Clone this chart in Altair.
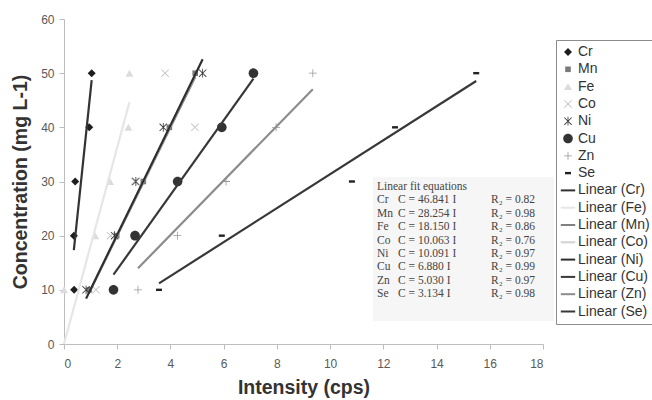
import altair as alt
import pandas as pd

# ---------------- data ----------------
elements = ["Cr", "Mn", "Fe", "Co", "Ni", "Cu", "Zn", "Se"]
concentrations = [10, 20, 30, 40, 50]

int_cr = [0.38, 0.37, 0.42, 0.95, 1.04]
int_mn = [0.95, 1.98, 2.98, 3.96, 4.93]
int_fe = [0.0, 1.17, 1.73, 2.42, 2.46]
int_co = [1.20, 1.75, 2.65, 4.92, 3.80]
int_ni = [0.83, 1.90, 2.70, 3.73, 5.21]
int_cu = [1.86, 2.67, 4.27, 5.93, 7.12]
int_zn = [2.78, 4.26, 6.09, 7.97, 9.35]
int_se = [3.57, 5.93, 10.82, 12.44, 15.49]
intensities = {"Cr": int_cr, "Mn": int_mn, "Fe": int_fe, "Co": int_co,
               "Ni": int_ni, "Cu": int_cu, "Zn": int_zn, "Se": int_se}

# trendlines (through the origin), in legend order; slopes as drawn
fit_order = ["Cr", "Fe", "Mn", "Co", "Ni", "Cu", "Zn", "Se"]
fit_slopes = [46.841, 18.150, 10.0, 10.063, 10.091, 6.880, 5.030, 3.134]

# equations table text
eq_slopes = ["46.841", "28.254", "18.150", "10.063", "10.091", "6.880", "5.030", "3.134"]
eq_r2 = ["0.82", "0.98", "0.86", "0.76", "0.97", "0.99", "0.97", "0.98"]

# ---------------- tables ----------------
pts_rows = []
for el in elements:
    for c, i in zip(concentrations, intensities[el]):
        pts_rows.append({"label": el, "I": i, "C": c})
pts_df = pd.DataFrame(pts_rows)

line_rows = []
for el, k in zip(fit_order, fit_slopes):
    xs = intensities[el]
    for x in (min(xs), max(xs)):
        line_rows.append({"label": "Linear (%s)" % el, "I": x, "C": k * x})
line_df = pd.DataFrame(line_rows)

eq_df = pd.DataFrame({
    "i": list(range(len(elements) + 1)),
    "el": ["Linear fit equations"] + elements,
    "eq": [""] + ["C = %s I" % s for s in eq_slopes],
    "r2": [""] + ["R\u2082 = %s" % r for r in eq_r2],
})

# ---------------- styles ----------------
domain = elements + ["Linear (%s)" % e for e in fit_order]
pt_colors = ["#1e1e1e", "#7a7a7a", "#dcdcdc", "#c2c2c2", "#3a3a3a", "#333333", "#9a9a9a", "#222222"]
ln_colors = ["#333333", "#e6e6e6", "#808080", "#d2d2d2", "#2e2e2e", "#383838", "#8c8c8c", "#383838"]
color_range = pt_colors + ln_colors

sq = "M-0.7,-0.7L0.7,-0.7L0.7,0.7L-0.7,0.7Z"
xmark = "M-0.85,-1L1,0.85L0.85,1L-1,-0.85Z M0.85,-1L1,-0.85L-0.85,1L-1,0.85Z"
star = xmark + " M-0.1,-1.1L0.1,-1.1L0.1,1.1L-0.1,1.1Z"
circ = "M1.2,0A1.2,1.2 0 1,1 -1.2,0A1.2,1.2 0 1,1 1.2,0Z"
plus = "M-1,-0.1L1,-0.1L1,0.1L-1,0.1Z M-0.1,-1L0.1,-1L0.1,1L-0.1,1Z"
dash = "M-0.75,-0.3L0.75,-0.3L0.75,0.3L-0.75,0.3Z"
bar = "M-1.8,-0.25L1.8,-0.25L1.8,0.25L-1.8,0.25Z"
shape_range = ["diamond", sq, "triangle-up", xmark, star, circ, plus, dash] + [bar] * 8

legend = alt.Legend(
    title=None, orient="none", legendX=492, legendY=21,
    strokeColor="#8c8c8c", fillColor="white", padding=5, cornerRadius=0,
    labelFont="Liberation Sans", labelFontSize=14, labelColor="#333333",
    rowPadding=3.3, symbolSize=64, symbolOffset=0, labelOffset=3, symbolStrokeWidth=0,
)

FONT = "Liberation Sans"

x_enc = alt.X("I:Q", title="Intensity (cps)",
              scale=alt.Scale(domain=[0, 18], nice=False),
              axis=alt.Axis(values=list(range(0, 19, 2)), format="d"))
y_enc = alt.Y("C:Q", title="Concentration (mg L-1)",
              scale=alt.Scale(domain=[0, 60], nice=False),
              axis=alt.Axis(values=list(range(0, 61, 10)), format="d"))

points = alt.Chart(pts_df).mark_point(filled=True, size=64, opacity=1).encode(
    x=x_enc, y=y_enc,
    color=alt.Color("label:N", scale=alt.Scale(domain=domain, range=color_range), legend=legend),
    shape=alt.Shape("label:N", scale=alt.Scale(domain=domain, range=shape_range), legend=legend),
)

lines = alt.Chart(line_df).mark_line(strokeWidth=2.2).encode(
    x="I:Q", y="C:Q",
    color=alt.Color("label:N", scale=alt.Scale(domain=domain, range=color_range), legend=None),
    detail="label:N",
)

box = alt.Chart(eq_df).mark_rect(fill="#f6f6f6").encode(
    x=alt.value(309), x2=alt.value(490), y=alt.value(158), y2=alt.value(302)
).transform_filter("datum.i == 0")

eq_base = alt.Chart(eq_df).transform_calculate(py="168 + datum.i * 13.4")
txt_kw = dict(align="left", baseline="middle", font="Liberation Serif", fontSize=11.5, color="#444444")
col_el = eq_base.mark_text(**txt_kw).encode(
    x=alt.value(313), y=alt.Y("py:Q", scale=None, axis=None), text="el:N")
col_eq = eq_base.mark_text(**txt_kw).encode(
    x=alt.value(334), y=alt.Y("py:Q", scale=None, axis=None), text="eq:N")
col_r2 = eq_base.mark_text(**txt_kw).encode(
    x=alt.value(427), y=alt.Y("py:Q", scale=None, axis=None), text="r2:N")

chart = alt.layer(points, lines, box, col_el, col_eq, col_r2).properties(
    width=479, height=325,
    autosize=alt.AutoSizeParams(type="none"),
    padding={"left": 64, "top": 19, "right": 109, "bottom": 56},
    background="white",
).configure_view(stroke=None).configure_axis(
    grid=False,
    domainColor="#bdbdbd", tickColor="#bdbdbd", tickSize=5,
    labelFont=FONT, labelFontSize=12, labelColor="#595959",
    titleFont=FONT, titleFontSize=19.5, titleFontWeight="bold", titleColor="#333333",
).configure_axisX(labelPadding=9, titlePadding=9).configure_axisY(labelPadding=5, titlePadding=10)

chart.save("out.html", embed_options={"renderer": "svg", "actions": False})
